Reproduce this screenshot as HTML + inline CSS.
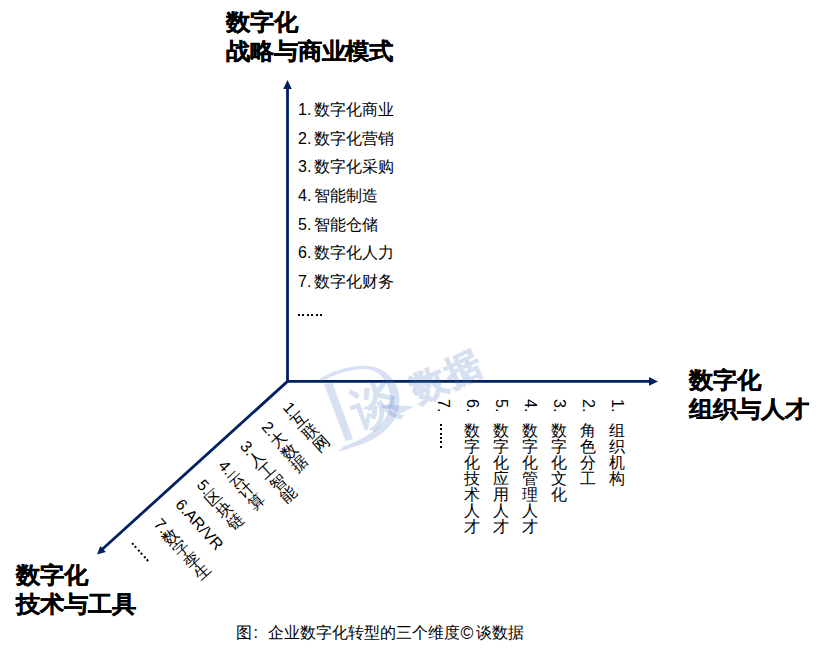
<!DOCTYPE html>
<html>
<head>
<meta charset="utf-8">
<style>
html,body{margin:0;padding:0;background:#fff;}
body{width:823px;height:652px;position:relative;overflow:hidden;font-family:"Liberation Sans",sans-serif;color:#000;}
.abs{position:absolute;white-space:nowrap;}
.head{font-size:24px;font-weight:bold;line-height:30.85px;-webkit-text-stroke:0.3px #000;transform-origin:0 0;transform:scale(0.995,0.94);}
.list{font-size:16px;line-height:28.65px;word-spacing:-1.5px;}
svg{position:absolute;left:0;top:0;}
.c{position:absolute;top:0;width:16px;display:flex;flex-direction:column;align-items:center;}
.n{writing-mode:vertical-rl;font-size:16px;line-height:16px;white-space:nowrap;}
.k{width:16px;word-break:break-all;font-size:16px;line-height:16px;white-space:normal;}
#right .n{margin-top:1px;margin-bottom:11px;}
.dots{width:16px;position:relative;}
.hd{display:inline-block;height:28.65px;vertical-align:top;position:relative;width:26px;}
.hd i{position:absolute;top:17.45px;width:2px;height:2px;background:#000;}
.hd i:nth-child(1){left:0}.hd i:nth-child(2){left:4px}.hd i:nth-child(3){left:9px}.hd i:nth-child(4){left:13px}.hd i:nth-child(5){left:18px}.hd i:nth-child(6){left:22px}
.dots i{display:block;width:2px;height:2px;background:#000;margin:0 auto 2.4px auto;}
</style>
</head>
<body>
<svg width="823" height="652" viewBox="0 0 823 652">
  <g stroke="#002060" stroke-width="2.8" fill="none">
    <line x1="287.5" y1="88" x2="287.5" y2="382.8"/>
    <line x1="286.2" y1="381.4" x2="650" y2="381.4"/>
    <line x1="287.5" y1="381.4" x2="102" y2="549.5"/>
  </g>
  <g fill="#002060">
    <polygon points="287.5,80 283.2,89 291.8,89"/>
    <polygon points="658,381.4 649,377 649,385.8"/>
    <polygon points="97,554.4 100.3,545.9 105.9,552"/>
  </g>
</svg>

<div class="abs head" style="left:226px;top:8px;">数字化<br>战略与商业模式</div>
<div class="abs head" style="left:689px;top:366px;">数字化<br>组织与人才</div>
<div class="abs head" style="left:16px;top:561px;">数字化<br>技术与工具</div>

<div class="abs list" style="left:298px;top:96px;">1. 数字化商业<br>2. 数字化营销<br>3. 数字化采购<br>4. 智能制造<br>5. 智能仓储<br>6. 数字化人力<br>7. 数字化财务<br><span class="hd"><i></i><i></i><i></i><i></i><i></i><i></i></span></div>

<div class="abs" id="right" style="left:609px;top:398px;">
  <div class="c" style="left:0px"><span class="n">1. </span><span class="k">组织机构</span></div>
  <div class="c" style="left:-29px"><span class="n">2. </span><span class="k">角色分工</span></div>
  <div class="c" style="left:-58px"><span class="n">3. </span><span class="k">数字化文化</span></div>
  <div class="c" style="left:-87px"><span class="n">4. </span><span class="k">数字化管理人才</span></div>
  <div class="c" style="left:-116px"><span class="n">5. </span><span class="k">数字化应用人才</span></div>
  <div class="c" style="left:-145px"><span class="n">6. </span><span class="k">数字化技术人才</span></div>
  <div class="c" style="left:-174px"><span class="n">7. </span><span class="dots" style="left:-2px;top:0.5px"><i></i><i></i><i></i><i></i><i></i><i></i></span></div>
</div>

<div class="abs" id="diag" style="left:280px;top:409.5px;transform-origin:0 0;transform:rotate(-42deg);">
  <div class="c" style="left:0px"><span class="n">1.</span><span class="k">互联网</span></div>
  <div class="c" style="left:-29px"><span class="n">2.</span><span class="k">大数据</span></div>
  <div class="c" style="left:-58px"><span class="n">3.</span><span class="k">人工智能</span></div>
  <div class="c" style="left:-87px"><span class="n">4.</span><span class="k">云计算</span></div>
  <div class="c" style="left:-116px"><span class="n">5.</span><span class="k">区块链</span></div>
  <div class="c" style="left:-145px"><span class="n">6.AR/VR</span></div>
  <div class="c" style="left:-174px"><span class="n">7.</span><span class="k">数字孪生</span></div>
  <div class="c" style="left:-206.8px"><span class="dots"><i></i><i></i><i></i><i></i><i></i><i></i></span></div>
</div>


<svg width="823" height="652" viewBox="0 0 823 652" style="position:absolute;left:0;top:0;">
  <g fill="rgb(72,118,196)" fill-opacity="0.22">
    <path d="M319,379 C335,370 352,365 368,366 C392,368 402,390 399,406 C396,425 380,438 360,445 L338,452 L344,446 C362,440 386,428 390,406 C393,388 382,370 366,369 C350,369 335,374 321,382 Z"/>
    <path d="M324,384 L332.5,383 L353,439 L345.5,441 Z"/>
    <text x="0" y="0" font-family="Liberation Serif" font-weight="bold" font-size="48" transform="translate(358,429) rotate(-20)">谈</text>
    <polygon points="382,404.5 396,405.2 413.8,406.4 404,411.5 399,414 392,409 382,408"/>
  </g>
  <g opacity="0.22" fill="rgb(72,118,196)" stroke="rgb(72,118,196)" stroke-width="1.2">
    <text x="0" y="0" style="font-family:'Liberation Sans';font-weight:bold" font-size="35" letter-spacing="3" transform="translate(418,403) rotate(-25)">数据</text>
  </g>
</svg>
<div class="abs" style="left:236px;top:622px;font-size:16px;line-height:22px;">图<span style="display:inline-block;width:16px;position:relative"><span style="position:absolute;left:1.5px;top:0;">:</span>&nbsp;</span>企业数字化转型的三个维度<span style="display:inline-block;width:15.6px;position:relative"><span style="position:absolute;left:0.5px;top:-0.5px;font-size:17.5px">©</span>&nbsp;</span>谈数据</div>
</body>
</html>
